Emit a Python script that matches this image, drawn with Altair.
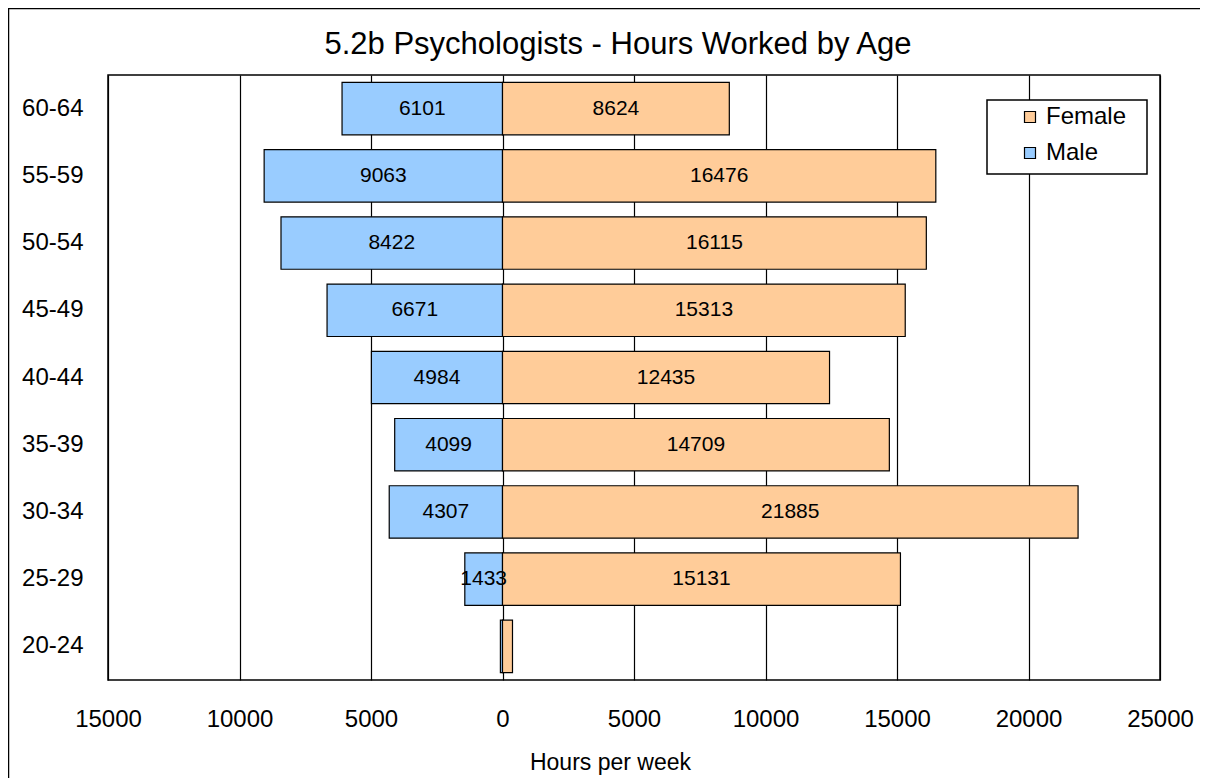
import altair as alt
import pandas as pd

ages = ["20-24", "25-29", "30-34", "35-39", "40-44", "45-49", "50-54", "55-59", "60-64"]
male = [80, 1433, 4307, 4099, 4984, 6671, 8422, 9063, 6101]
female = [380, 15131, 21885, 14709, 12435, 15313, 16115, 16476, 8624]
x_ticks = [-15000, -10000, -5000, 0, 5000, 10000, 15000, 20000, 25000]
title_text = "5.2b Psychologists - Hours Worked by Age"

rows = []
for a, m, f in zip(ages, male, female):
    rows.append({"age": a, "sex": "Male", "value": -m, "mid": -m / 2, "label": str(m) if m > 1000 else ""})
    rows.append({"age": a, "sex": "Female", "value": f, "mid": f / 2, "label": str(f) if f > 1000 else ""})
df = pd.DataFrame(rows)

FONT = "Liberation Sans"
order = list(reversed(ages))

y_enc = alt.Y("age:N", sort=order,
              scale=alt.Scale(paddingInner=0.22, paddingOuter=0.11),
              axis=alt.Axis(title=None, ticks=False, domain=False, labelFontSize=24,
                            labelPadding=25, labelColor="black", labelFont=FONT))

x_axis = alt.Axis(values=x_ticks, labelExpr="format(abs(datum.value), 'd')",
                  title="Hours per week", titleFontSize=23, titleFontWeight="normal",
                  titleFont=FONT, titleColor="black", titleX=502, titleY=82,
                  titleBaseline="middle",
                  labelFontSize=24, labelFont=FONT, labelColor="black", labelFlush=False,
                  labelPadding=27, ticks=False, domain=False,
                  grid=True, gridColor="black", gridWidth=1.2, gridOpacity=1)

bars = alt.Chart(df).mark_bar(stroke="black", strokeWidth=1.2).encode(
    x=alt.X("value:Q",
            scale=alt.Scale(domain=[-15000, 25000], nice=False, zero=False),
            axis=x_axis),
    y=y_enc,
    color=alt.Color("sex:N",
                    scale=alt.Scale(domain=["Female", "Male"], range=["#FFCC99", "#99CCFF"]),
                    legend=alt.Legend(title=None, orient="none", legendX=910, legendY=30,
                                      direction="vertical", padding=0,
                                      symbolType="square", symbolSize=121,
                                      symbolStrokeColor="black", symbolStrokeWidth=1.2,
                                      labelFontSize=24, labelFont=FONT, labelColor="black",
                                      rowPadding=12, labelOffset=4, symbolOffset=0,
                                      labelLimit=200)),
)

labels = alt.Chart(df).mark_text(fontSize=21, font=FONT, color="black").encode(
    x=alt.X("mid:Q", axis=x_axis),
    y=alt.Y("age:N", sort=order),
    text="label:N",
)

one = pd.DataFrame({"k": [0]})

frame = alt.Chart(one).mark_rect(
    fill="transparent", stroke="black", strokeWidth=1.5, clip=False).encode(
    x=alt.value(-99.5), x2=alt.value(1200), y=alt.value(-66.5), y2=alt.value(800))

legend_box = alt.Chart(one).mark_rect(
    fill="white", stroke="black", strokeWidth=1.5).encode(
    x=alt.value(879), x2=alt.value(1039), y=alt.value(25), y2=alt.value(99))

title = alt.Chart(pd.DataFrame({"t": [title_text]})).mark_text(
    fontSize=31, font=FONT, color="black", align="center", baseline="middle", clip=False).encode(
    x=alt.value(510), y=alt.value(-30), text="t:N")

chart = alt.layer(frame, bars, labels, legend_box, title).properties(
    width=1052, height=605,
    autosize=alt.AutoSizeParams(type="none"),
    padding={"left": 100, "top": 67, "right": 40, "bottom": 100},
).configure_view(stroke="black", strokeWidth=1.5)

chart.save("out.html", embed_options={"renderer": "svg", "actions": False})
